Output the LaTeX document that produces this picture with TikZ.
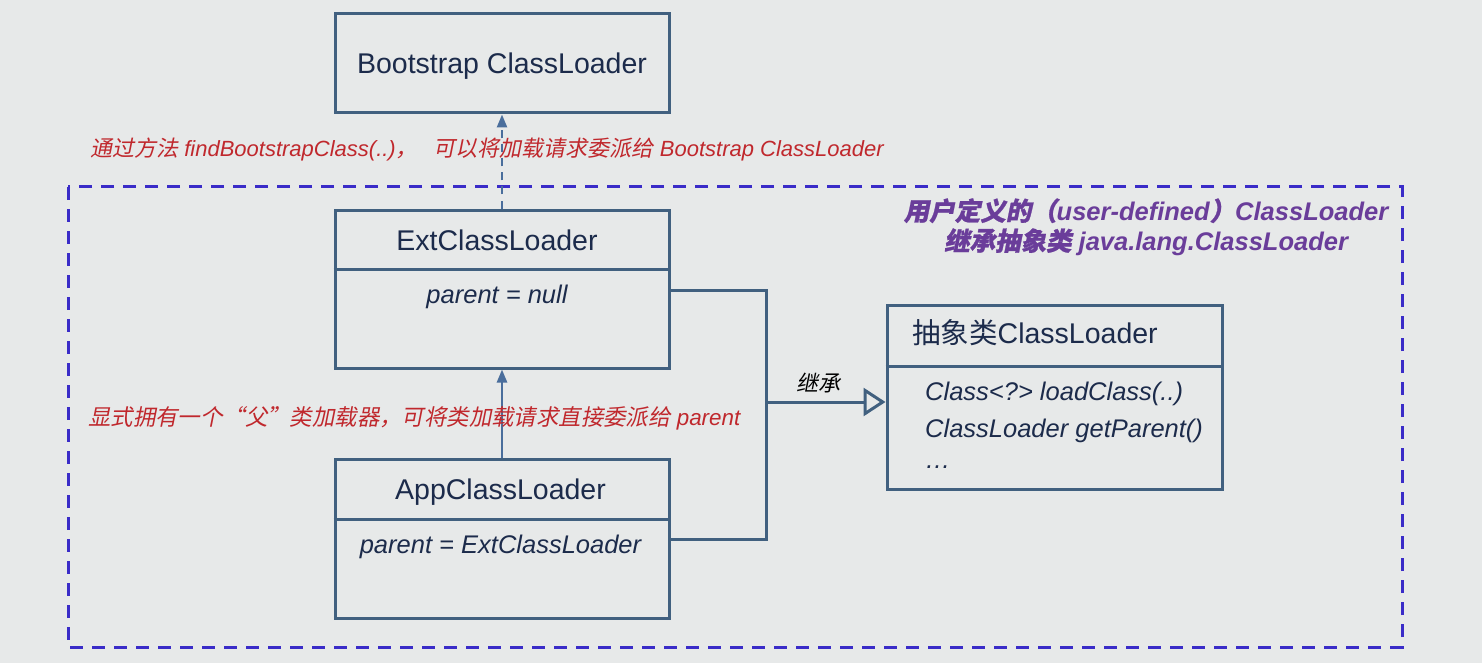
\documentclass[tikz,border=0pt]{standalone}
\usepackage{fontspec}
\setmainfont{Liberation Sans}
\newfontfamily\cjk{Noto Sans CJK SC}
\newfontfamily\cjkit[FakeSlant=0.2]{Noto Sans CJK SC}
\newfontfamily\cjkbi[FakeSlant=0.2,FakeBold=1]{Noto Sans CJK SC}
\usetikzlibrary{arrows.meta}
\definecolor{bg}{HTML}{E7E9E9}
\definecolor{boxline}{HTML}{41607F}
\definecolor{arrowc}{HTML}{4A6E9C}
\definecolor{navy}{HTML}{1C2B4B}
\definecolor{redt}{HTML}{C0282D}
\definecolor{purp}{HTML}{6A3D9A}
\definecolor{dashc}{HTML}{3A2CC8}
\tikzset{
  umlbox/.style={draw=boxline, line width=3pt, rectangle, inner sep=0pt, minimum width=334pt},
  title/.style={text=navy, anchor=base, inner sep=0pt, font=\fontsize{28.5}{32}\selectfont},
  attr/.style={text=navy, anchor=base, inner sep=0pt, font=\fontsize{25.5}{30}\selectfont\itshape},
  redlabel/.style={text=redt, anchor=base west, inner sep=0pt, font=\fontsize{22}{26}\selectfont\itshape},
  purplabel/.style={text=purp, inner sep=0pt, align=center, font=\fontsize{25.5}{30}\selectfont\bfseries\itshape},
  divider/.style={draw=boxline, line width=3pt},
  conn/.style={draw=boxline, line width=3pt},
  parentarrow/.style={draw=arrowc, line width=2.5pt, -{Triangle[length=13pt, width=10pt]}},
}
\begin{document}
\begin{tikzpicture}[x=1pt,y=-1pt]
\fill[bg] (0,0) rectangle (1482,663);
\useasboundingbox (0,0) rectangle (1482,663);

% dashed frame
\draw[dashc, line width=3pt, dash pattern=on 13pt off 9pt] (68,187) rectangle (1402,647);

% boxes
\node[umlbox, minimum height=99pt] (boot) at (502,63.5) {};
\node[umlbox, minimum height=158pt] (ext) at (502,289) {};
\node[umlbox, minimum height=159pt] (app) at (502,538.5) {};
\node[umlbox, minimum width=335pt, minimum height=184pt] (abs) at (1054.5,397) {};

% dividers
\draw[divider] (ext.west |- 0,269) -- (ext.east |- 0,269);
\draw[divider] (app.west |- 0,519) -- (app.east |- 0,519);
\draw[divider] (abs.west |- 0,366) -- (abs.east |- 0,366);

% box texts
\node[title] (tboot) at (502,74) {Bootstrap ClassLoader};
\node[title] (text) at (497,250) {ExtClassLoader};
\node[attr] (pext) at (497,303) {parent = null};
\node[title] (tapp) at (500.5,499) {AppClassLoader};
\node[attr] (papp) at (500.5,553) {parent = ExtClassLoader};
\node[title, anchor=base west] (tabs) at (912,343) {{\cjk 抽象类}ClassLoader};
\node[attr, anchor=base west] (m1) at (925,400) {Class<?> loadClass(..)};
\node[attr, anchor=base west] (m2) at (925,437) {ClassLoader getParent()};
\node[attr, anchor=base west] (m3) at (925,468) {…};

% connectors
\draw[parentarrow, dash pattern=on 8pt off 6pt] (ext.north) -- (boot.south);
\draw[parentarrow] (app.north) -- (ext.south);
\coordinate (j) at (766,402);
\coordinate (e1) at (ext.east |- 0,290);
\coordinate (a1) at (app.east |- 0,539);
\draw[conn] (e1) -| (j) |- (a1);
\draw[conn, -{Triangle[open, length=22pt, width=28pt, fill=bg]}] (j) -- (abs.west |- j);
\node[anchor=base, inner sep=0pt, font=\fontsize{22}{24}\selectfont\cjkit] (inh) at (818,391) {继承};

% red labels
\node[redlabel] (r1) at (90,157) {{\cjkit 通过方法} findBootstrapClass(..){\cjkit ，}\hspace{16pt}{\cjkit 可以将加载请求委派给} Bootstrap ClassLoader};
\node[redlabel, font=\fontsize{22.4}{26}\selectfont\itshape] (r2) at (88,425) {{\cjkit 显式拥有一个“父”类加载器，可将类加载请求直接委派给} parent};

% purple label
\node[purplabel] (pl) at (1146,227) {{\cjkbi 用户定义的（}user-defined{\cjkbi ）}ClassLoader\\{\cjkbi 继承抽象类} java.lang.ClassLoader};
\end{tikzpicture}
\end{document}
